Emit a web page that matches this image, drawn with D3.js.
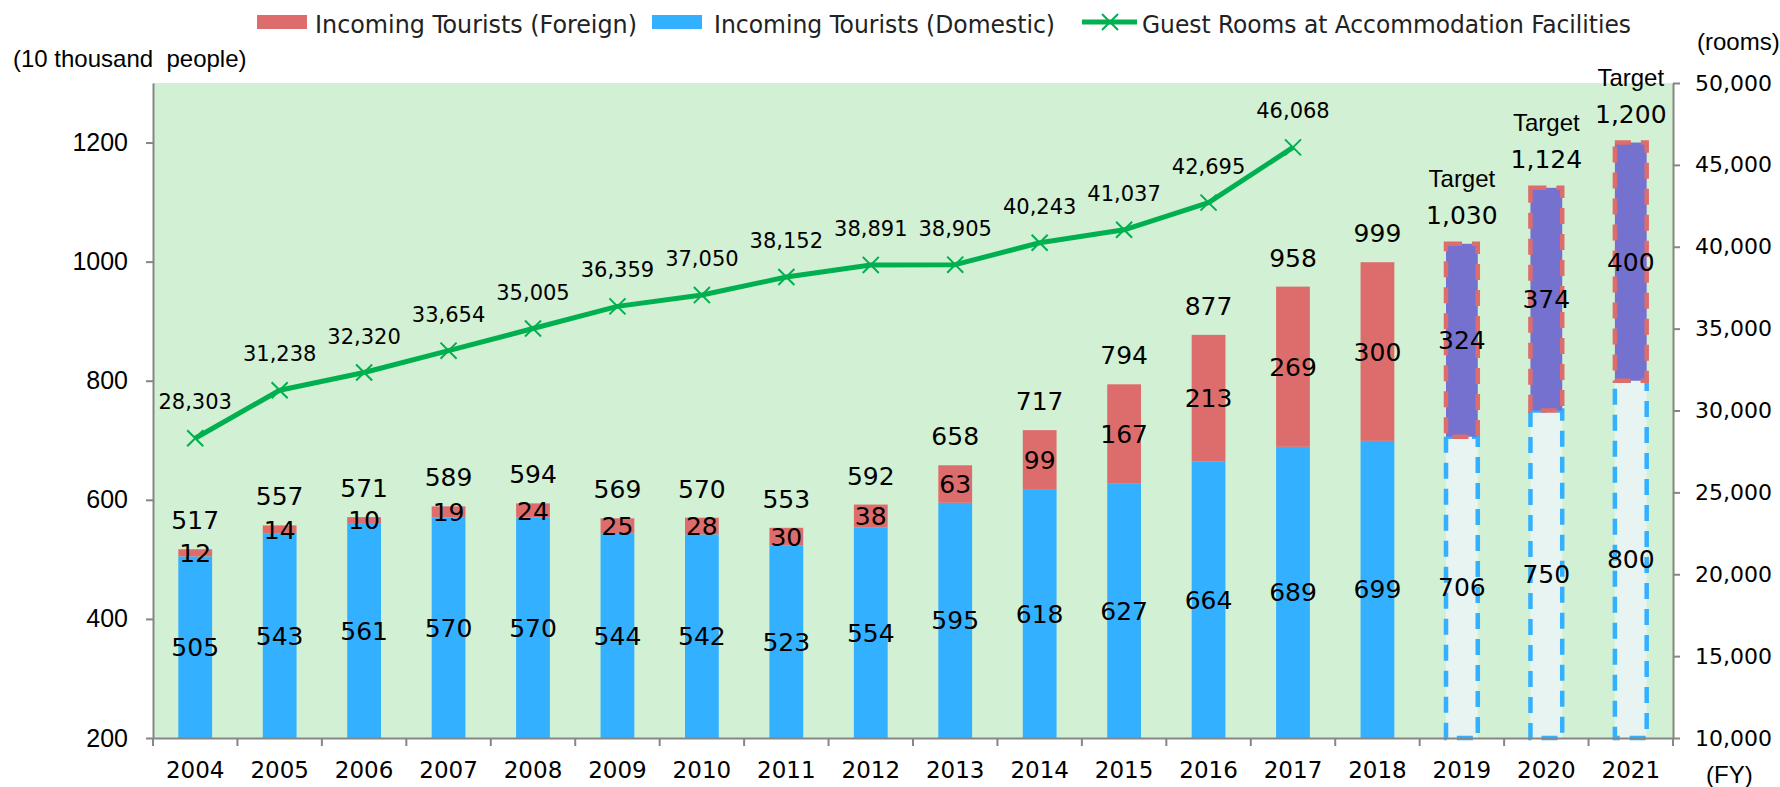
<!DOCTYPE html>
<html lang="en">
<head>
    <meta charset="UTF-8">
    <title>Incoming Tourists and Guest Rooms</title>
    <script src="https://d3js.org/d3.v7.min.js"></script>
    <style>
        body { margin: 0; background: #fff; }
        svg { display: block; }
        .num { font-family: "DejaVu Sans", Verdana, sans-serif; fill: #000; }
        .arial { font-family: "Liberation Sans", Arial, sans-serif; fill: #000; }
    </style>
</head>
<body>
    <div id="chart"></div>

    <script>
        // data
        const years = ["2004", "2005", "2006", "2007", "2008", "2009", "2010", "2011", "2012",
                       "2013", "2014", "2015", "2016", "2017", "2018", "2019", "2020", "2021"];
        const domestic = [505, 543, 561, 570, 570, 544, 542, 523, 554, 595, 618, 627, 664, 689, 699, 706, 750, 800];
        const foreign = [12, 14, 10, 19, 24, 25, 28, 30, 38, 63, 99, 167, 213, 269, 300, 324, 374, 400];
        const targetYears = ["2019", "2020", "2021"];
        const roomYears = years.slice(0, 14);
        const rooms = [28303, 31238, 32320, 33654, 35005, 36359, 37050, 38152, 38891, 38905, 40243, 41037, 42695, 46068];
        const leftTicks = [200, 400, 600, 800, 1000, 1200];
        const rightTicks = [10000, 15000, 20000, 25000, 30000, 35000, 40000, 45000, 50000];

        const width = 1780;
        const height = 787;
        const plotL = 153, plotR = 1673, plotT = 83, plotB = 738;

        const blue = "#33b0ff", red = "#dd6c6c", purple = "#7572cf", green = "#00b050";
        const fmt = d3.format(",");

        const svg = d3.select("#chart")
                      .append("svg")
                      .attr("width", width)
                      .attr("height", height);

        const x = d3.scaleBand().domain(years).range([plotL, plotR]);
        const yL = d3.scaleLinear().domain([200, 1300]).range([plotB, plotT]);
        const yR = d3.scaleLinear().domain([10000, 50000]).range([plotB, plotT]);
        const barW = x.bandwidth() * 0.4;
        const cx = d => x(d) + x.bandwidth() / 2;

        const rows = years.map((y, i) => ({
            year: y,
            dom: domestic[i],
            frn: foreign[i],
            total: domestic[i] + foreign[i],
            target: targetYears.includes(y)
        }));

        // plot background
        svg.append("rect")
           .attr("x", plotL).attr("y", plotT)
           .attr("width", plotR - plotL).attr("height", plotB - plotT)
           .attr("fill", "#d2f0d3");

        // actual bars
        const actual = rows.filter(d => !d.target);
        svg.append("g").selectAll("rect")
           .data(actual).enter().append("rect")
           .attr("x", d => cx(d.year) - barW / 2)
           .attr("y", d => yL(d.dom))
           .attr("width", barW)
           .attr("height", d => yL(200) - yL(d.dom))
           .attr("fill", blue);

        svg.append("g").selectAll("rect")
           .data(actual).enter().append("rect")
           .attr("x", d => cx(d.year) - barW / 2)
           .attr("y", d => yL(d.total))
           .attr("width", barW)
           .attr("height", d => yL(d.dom) - yL(d.total))
           .attr("fill", red);

        // target bars (dashed)
        const targets = rows.filter(d => d.target);
        const tw = barW - 2;
        svg.append("g").selectAll("rect")
           .data(targets).enter().append("rect")
           .attr("x", d => cx(d.year) - tw / 2)
           .attr("y", d => yL(d.dom))
           .attr("width", tw)
           .attr("height", d => yL(200) - yL(d.dom))
           .attr("fill", "#e7f4f1")
           .attr("stroke", blue)
           .attr("stroke-width", 4.5)
           .attr("stroke-dasharray", "16,10");

        svg.append("g").selectAll("rect")
           .data(targets).enter().append("rect")
           .attr("x", d => cx(d.year) - tw / 2)
           .attr("y", d => yL(d.total))
           .attr("width", tw)
           .attr("height", d => yL(d.dom) - yL(d.total))
           .attr("fill", purple)
           .attr("stroke", red)
           .attr("stroke-width", 4.5)
           .attr("stroke-dasharray", "16,10");

        // segment labels
        svg.append("g").selectAll("text")
           .data(rows).enter().append("text")
           .attr("class", "num")
           .attr("x", d => cx(d.year))
           .attr("y", d => yL((200 + d.dom) / 2))
           .attr("dy", "0.36em")
           .attr("text-anchor", "middle")
           .style("font-size", "25px")
           .text(d => d.dom);

        svg.append("g").selectAll("text")
           .data(rows).enter().append("text")
           .attr("class", "num")
           .attr("x", d => cx(d.year))
           .attr("y", d => yL(d.dom + d.frn / 2))
           .attr("dy", "0.36em")
           .attr("text-anchor", "middle")
           .style("font-size", "25px")
           .text(d => d.frn);

        // totals
        svg.append("g").selectAll("text")
           .data(rows).enter().append("text")
           .attr("class", "num")
           .attr("x", d => cx(d.year))
           .attr("y", d => yL(d.total) - 20)
           .attr("text-anchor", "middle")
           .style("font-size", "25px")
           .text(d => fmt(d.total));

        svg.append("g").selectAll("text")
           .data(targets).enter().append("text")
           .attr("class", "arial")
           .attr("x", d => cx(d.year))
           .attr("y", d => yL(d.total) - 57)
           .attr("text-anchor", "middle")
           .style("font-size", "24px")
           .text("Target");

        // guest rooms line
        const pts = roomYears.map((y, i) => ({ year: y, v: rooms[i] }));
        const line = d3.line().x(d => cx(d.year)).y(d => yR(d.v));
        svg.append("path")
           .datum(pts)
           .attr("d", line)
           .attr("fill", "none")
           .attr("stroke", green)
           .attr("stroke-width", 5)
           .attr("stroke-linejoin", "round");

        const cross = d3.symbol().type(d3.symbolX).size(170);
        svg.append("g").selectAll("path")
           .data(pts).enter().append("path")
           .attr("transform", d => `translate(${cx(d.year)},${yR(d.v)})`)
           .attr("d", cross)
           .attr("fill", "none")
           .attr("stroke", green)
           .attr("stroke-width", 2);

        svg.append("g").selectAll("text")
           .data(pts).enter().append("text")
           .attr("class", "num")
           .attr("x", d => cx(d.year))
           .attr("y", d => yR(d.v) - 29)
           .attr("text-anchor", "middle")
           .style("font-size", "21px")
           .text(d => fmt(d.v));

        // axes
        const axisColor = "#868686";

        const gl = svg.append("g")
           .attr("transform", `translate(${plotL},0)`)
           .call(d3.axisLeft(yL).tickValues(leftTicks).tickSize(7).tickSizeOuter(0).tickPadding(18)
                   .tickFormat(d3.format("d")));
        gl.selectAll("text").attr("class", "arial").style("font-size", "25px").attr("fill", "#000");

        const gr = svg.append("g")
           .attr("transform", `translate(${plotR},0)`)
           .call(d3.axisRight(yR).tickValues(rightTicks).tickSize(7).tickSizeOuter(0).tickPadding(15).tickFormat(fmt));
        gr.selectAll("text").attr("class", "num").style("font-size", "22px").attr("fill", "#000");

        const gb = svg.append("g")
           .attr("transform", `translate(0,${plotB})`)
           .call(d3.axisBottom(x).tickSize(0).tickSizeOuter(0));
        gb.selectAll("text").attr("class", "num").style("font-size", "23px").attr("fill", "#000")
          .attr("dy", null).attr("y", 40);

        // boundary ticks on the category axis
        svg.append("g").selectAll("line")
           .data(years.map(y => x(y)).concat([plotR])).enter().append("line")
           .attr("x1", d => d).attr("x2", d => d)
           .attr("y1", plotB).attr("y2", plotB + 8)
           .attr("stroke", axisColor).attr("stroke-width", 2);

        svg.selectAll(".domain, .tick line")
           .attr("stroke", axisColor)
           .attr("stroke-width", 2);

        // axis titles
        svg.append("text").attr("class", "arial")
           .attr("x", 13).attr("y", 67)
           .style("font-size", "24px")
           .attr("xml:space", "preserve")
           .text("(10 thousand  people)");

        svg.append("text").attr("class", "arial")
           .attr("x", 1697).attr("y", 50)
           .style("font-size", "24px")
           .text("(rooms)");

        svg.append("text").attr("class", "arial")
           .attr("x", 1706).attr("y", 783)
           .style("font-size", "24px")
           .text("(FY)");

        // legend
        const legend = svg.append("g");
        legend.append("rect").attr("x", 257).attr("y", 15).attr("width", 50).attr("height", 14).attr("fill", red);
        legend.append("rect").attr("x", 652).attr("y", 15).attr("width", 50).attr("height", 14).attr("fill", blue);
        legend.append("line").attr("x1", 1082).attr("x2", 1137).attr("y1", 22).attr("y2", 22)
              .attr("stroke", green).attr("stroke-width", 5);
        legend.append("path").attr("transform", "translate(1110,22)").attr("d", cross)
              .attr("fill", "none").attr("stroke", green).attr("stroke-width", 2);

        const legendItems = [
            { label: "Incoming Tourists (Foreign)", x: 315, w: 322 },
            { label: "Incoming Tourists (Domestic)", x: 714, w: 341 },
            { label: "Guest Rooms at Accommodation Facilities", x: 1142, w: 489 }
        ];
        legend.selectAll("text")
              .data(legendItems).enter().append("text")
              .attr("x", d => d.x).attr("y", 33)
              .attr("textLength", d => d.w)
              .attr("lengthAdjust", "spacingAndGlyphs")
              .style("font-family", "'DejaVu Sans Condensed', 'DejaVu Sans', sans-serif")
              .style("font-size", "25px")
              .attr("fill", "#222")
              .text(d => d.label);
    </script>
</body>
</html>
